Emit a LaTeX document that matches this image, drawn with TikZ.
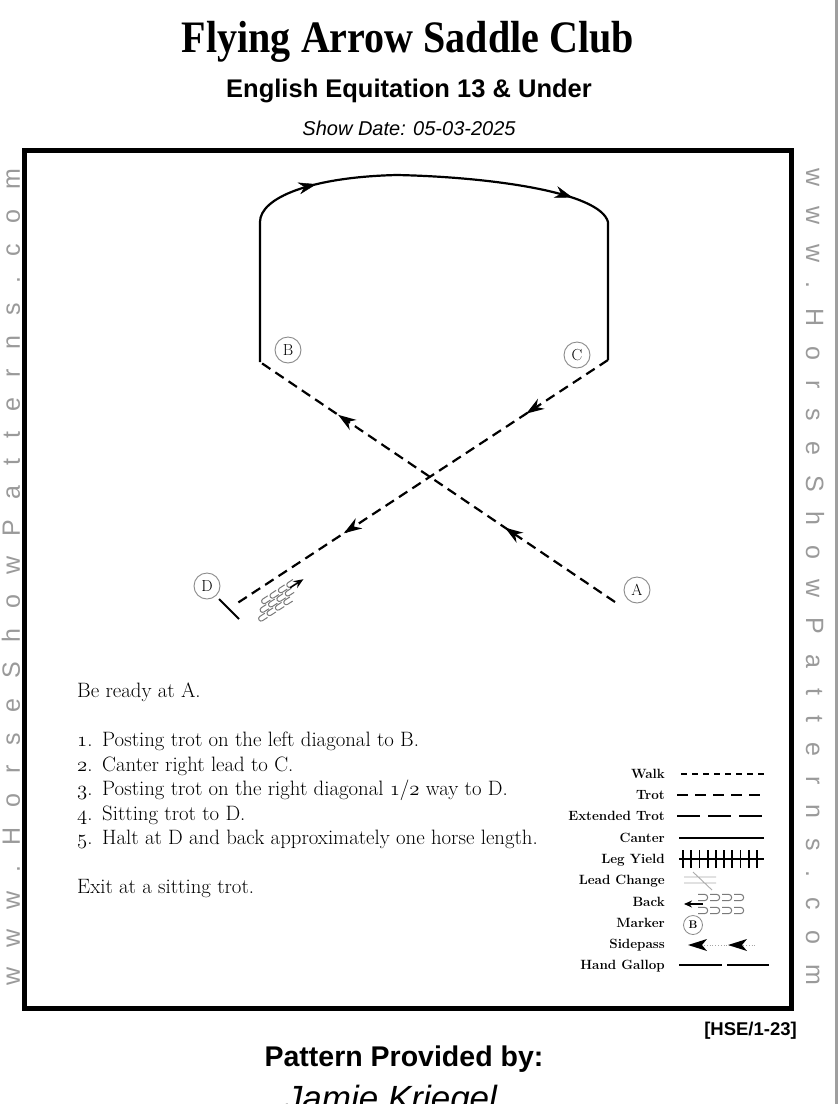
\documentclass[tikz,border=0pt]{standalone}
\usepackage{fontspec}
\usetikzlibrary{arrows.meta,decorations.markings}
\newfontfamily\titlefont{Liberation Serif}
\newfontfamily\arialfont{Liberation Sans}
\newfontfamily\wmfont[LetterSpace=80]{Liberation Sans}
\definecolor{wmgray}{HTML}{9A9A9A}
\definecolor{mkgray}{HTML}{8A8A8A}
\definecolor{loopgray}{HTML}{7A7A7A}
\tikzset{
  canter/.style={line width=2.2pt, line cap=butt},
  trotline/.style={line width=2.2pt, dash pattern=on 10pt off 6pt},
  marker/.style={circle, draw=mkgray, line width=0.9pt, minimum size=26pt, inner sep=0pt, font=\fontsize{16}{16}\selectfont},
  legendlabel/.style={anchor=base east, inner sep=0pt, font=\bfseries\fontsize{13.4}{13.4}\selectfont},
  instr/.style={anchor=base west, inner sep=0pt, font=\fontsize{20.8}{20.8}\selectfont},
  bigtip/.style={postaction={solid, decorate, decoration={markings, mark=at position #1 with {\arrow{Stealth[length=18pt,width=12pt]}}}}},
  wm/.style={text=wmgray, inner sep=0pt, font=\wmfont\fontsize{25}{25}\selectfont},
  legline/.style={line width=2pt},
  loop/.style={loopgray, line width=1pt},
}
\begin{document}
\begin{tikzpicture}[x=1pt,y=-1pt]
\useasboundingbox (0,0) rectangle (840,1104);
\clip (0,0) rectangle (840,1104);
\fill[white] (0,0) rectangle (840,1104);
% right gray rule
\draw[line width=3pt, gray!75] (836,0) -- (836,1104);
% titles
\node[anchor=base, inner sep=0pt, font=\titlefont\bfseries\fontsize{45}{45}\selectfont] (title) at (408,52) {\scalebox{0.89}[1]{Flying Arrow Saddle Club}};
\node[anchor=base, inner sep=0pt, font=\arialfont\bfseries\fontsize{25.5}{25.5}\selectfont] (sub) at (409,97) {English Equitation 13 \& Under};
\node[anchor=base, inner sep=0pt, font=\arialfont\itshape\fontsize{20}{20}\selectfont] (date) at (409,135) {Show Date: 05-03-2025};
% frame
\draw[line width=5pt] (24.5,150.5) rectangle (791.5,1008.5);
% watermarks
\node[wm, rotate=90] (wmL) at (11,577) {www.HorseShowPatterns.com};
\node[wm, rotate=-90] (wmR) at (815,577) {www.HorseShowPatterns.com};
% markers
\node[marker] (B) at (288,350) {B};
\node[marker] (C) at (577,355) {C};
\node[marker] (D) at (207,586) {D};
\node[marker] (A) at (637,590) {A};
% path points
\coordinate (bBot) at (260,362);
\coordinate (bTop) at (260,222);
\coordinate (top) at (397,175);
\coordinate (cTop) at (608,222);
\coordinate (cBot) at (608,360);
\coordinate (aEnd) at (615,602);
\coordinate (dEnd) at (236,604);
\coordinate (haltA) at (219,599);
\coordinate (haltB) at (239,619);
% trot A to B
\draw[trotline, bigtip=0.31, bigtip=0.78] (aEnd) -- (bBot);
% canter B to C
\draw[canter] (bBot) -- (bTop) .. controls (260,198) and (310,177) .. (top) .. controls (490,177) and (600,192) .. (cTop) -- (cBot);
\path[bigtip=0.47] (bTop) .. controls (260,198) and (310,177) .. (top);
\path[bigtip=0.8] (top) .. controls (490,177) and (600,192) .. (cTop);
% trot C to D
\draw[trotline, bigtip=0.22, bigtip=0.71] (cBot) -- (dEnd);
% halt
\draw[line width=2pt] (haltA) -- (haltB);
% back symbol at D
\begin{scope}[shift={(304,580)}, rotate=213]
  \foreach \r/\s in {4/9, -2.5/15, -9/21}{
    \foreach \i in {0,...,3}{
      \draw[loop] ({\s+10*\i},{\r-2.5}) -- ({\s+10*\i+6},{\r-2.5}) arc[start angle=90, end angle=-90, radius=2.5pt] -- ({\s+10*\i},{\r+2.5});
    }
  }
  \draw[line width=1.4pt, -{Stealth[length=10pt,width=8pt]}] (16,1) -- (0,1);
\end{scope}
% instructions
\node[instr] (intro) at (77,697) {Be ready at A.};
\node[instr] (n1) at (77,746) {$\mathnormal{1}$.};
\node[instr] (s1) at (102,746) {Posting trot on the left diagonal to B.};
\node[instr] (n2) at (77,771) {$\mathnormal{2}$.};
\node[instr] (s2) at (102,771) {Canter right lead to C.};
\node[instr] (n3) at (77,795) {$\mathnormal{3}$.};
\node[instr] (s3) at (102,795) {Posting trot on the right diagonal $\mathnormal{1/2}$ way to D.};
\node[instr] (n4) at (77,820) {$\mathnormal{4}$.};
\node[instr] (s4) at (102,820) {Sitting trot to D.};
\node[instr] (n5) at (77,844) {$\mathnormal{5}$.};
\node[instr] (s5) at (102,844) {Halt at D and back approximately one horse length.};
\node[instr] (exit) at (77,893) {Exit at a sitting trot.};
% legend
\node[legendlabel] (lw) at (665,778.5) {Walk};
\node[legendlabel] (lt) at (665,799.5) {Trot};
\node[legendlabel] (le) at (665,820.5) {Extended Trot};
\node[legendlabel] (lc) at (665,842.5) {Canter};
\node[legendlabel] (ll) at (665,863.5) {Leg Yield};
\node[legendlabel] (lch) at (665,884.5) {Lead Change};
\node[legendlabel] (lb) at (665,906.5) {Back};
\node[legendlabel] (lm) at (665,927.5) {Marker};
\node[legendlabel] (ls) at (665,948.5) {Sidepass};
\node[legendlabel] (lg) at (665,969.5) {Hand Gallop};
\draw[legline, dash pattern=on 6pt off 5pt] (681,774) -- (766,774);
\draw[legline, dash pattern=on 11pt off 7pt] (677,795) -- (762,795);
\draw[legline, dash pattern=on 23pt off 8pt] (677,816) -- (763,816);
\draw[legline] (679,838) -- (764,838);
\draw[legline] (679,859) -- (764,859);
\foreach \i in {0,...,9}{\draw[line width=1.8pt] ({683+8.2*\i},850) -- ({683+8.2*\i},868);}
\draw[gray!65, line width=0.9pt] (684,877) -- (716,877) (684,883) -- (716,883) (693,872) -- (712,890);
\draw[line width=1.5pt, -{Stealth[length=8pt,width=7pt]}] (703,904) -- (684,904);
\foreach \r in {897.5,910.5}{
  \foreach \i in {0,...,3}{
    \draw[loop] ({698+12*\i},{\r-3.2}) -- ({698+12*\i+6.5},{\r-3.2}) arc[start angle=90, end angle=-90, radius=3.2pt] -- ({698+12*\i},{\r+3.2});
  }
}
\node[circle, draw=mkgray, line width=0.8pt, minimum size=19pt, inner sep=0pt, font=\bfseries\fontsize{11}{11}\selectfont] (mB) at (693,925) {B};
\draw[gray!70, dotted, line width=0.8pt] (690,945) -- (757,945);
\fill (688,945) -- (707,939) -- (702,945) -- (707,951) -- cycle;
\fill (728,945) -- (747,939) -- (742,945) -- (747,951) -- cycle;
\draw[legline] (679,965) -- (722,965);
\draw[legline] (727,965) -- (769,965);
% bottom texts
\node[anchor=base east, inner sep=0pt, font=\arialfont\bfseries\fontsize{18.5}{18.5}\selectfont] (code) at (797,1035) {[HSE/1-23]};
\node[anchor=base, inner sep=0pt, font=\arialfont\bfseries\fontsize{28.5}{28.5}\selectfont] (prov) at (404,1066) {Pattern Provided by:};
\node[anchor=base, inner sep=0pt, font=\arialfont\itshape\fontsize{35}{35}\selectfont] (auth) at (391,1110) {Jamie Kriegel};
\end{tikzpicture}
\end{document}
